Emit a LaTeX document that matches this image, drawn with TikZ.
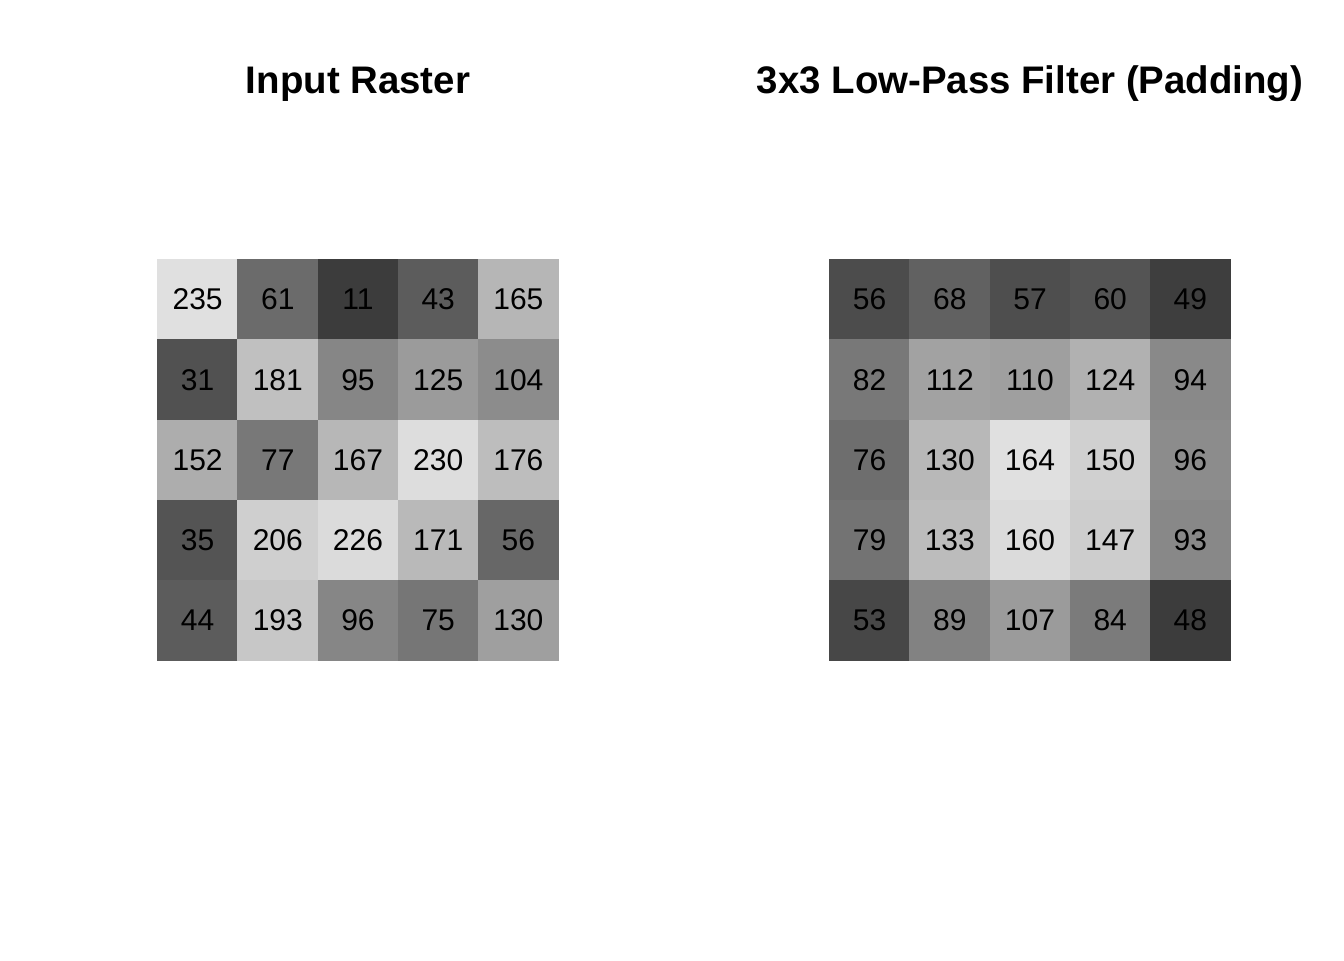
\documentclass[tikz,border=0pt]{standalone}
\usepackage{fontspec}
\setmainfont{Liberation Sans}
\begin{document}
\begin{tikzpicture}[x=0.5pt,y=-0.5pt,
  cell/.style={minimum size=40.1pt,inner sep=0pt,line width=0.3pt,
    font=\fontsize{15pt}{18pt}\selectfont},
  title/.style={anchor=base,font=\fontsize{19.2pt}{23pt}\selectfont\bfseries}]
\useasboundingbox (0,0) rectangle (1344,960);
% the two rasters, grey level from the value
\foreach \name/\xo/\lo/\hi/\vals in {
  in/157.5/11/235/{235,61,11,43,165,31,181,95,125,104,152,77,167,230,176,35,206,226,171,56,44,193,96,75,130},
  out/829.5/48/164/{56,68,57,60,49,82,112,110,124,94,76,130,164,150,96,79,133,160,147,93,53,89,107,84,48}}{
  \foreach \v [count=\i from 0] in \vals {
    \pgfmathtruncatemacro\c{mod(\i,5)}
    \pgfmathtruncatemacro\r{div(\i,5)}
    \pgfmathsetmacro\g{100*pow(0.1139+0.7088*(\v-\lo)/(\hi-\lo),2/3)}
    \node[cell,fill=white!\g!black,draw=white!\g!black] (\name-\r-\c)
      at (\xo+80.2*\c+40.1,259.5+80.2*\r+40.1) {\v};
  }
}

\node[title] (in-title) at (358,93) {Input Raster};
\node[title] (out-title) at (1030,93) {3x3 Low-Pass Filter (Padding)};
\end{tikzpicture}
\end{document}
